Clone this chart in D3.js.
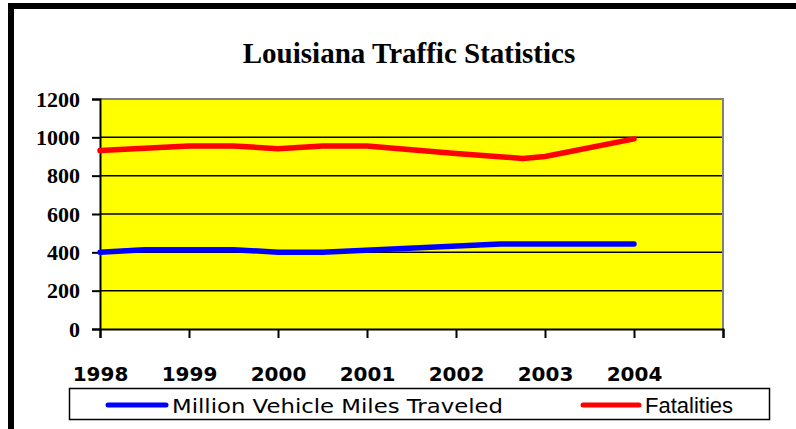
<!DOCTYPE html>
<html>
<head>
<meta charset="utf-8">
<script src="https://cdn.jsdelivr.net/npm/d3@7/dist/d3.min.js"></script>
<style>
  html, body { margin: 0; padding: 0; background: #fff; }
  svg { display: block; }
</style>
</head>
<body>
<svg id="chart" width="796" height="429"></svg>
<script>
// ---- data ----
const title = "Louisiana Traffic Statistics";
const yearTicks = [1998, 1999, 2000, 2001, 2002, 2003, 2004, 2005];
const yearLabels = ["1998", "1999", "2000", "2001", "2002", "2003", "2004", ""];
const yTicks = [0, 200, 400, 600, 800, 1000, 1200];

const milesName = "Million Vehicle Miles Traveled";
const milesX = [1998, 1998.5, 1999.5, 2000, 2000.5, 2002.5, 2004];
const milesV = [400, 414, 414, 401, 401, 444, 443];

const fatalName = "Fatalities";
const fatalX = [1998, 1999, 1999.5, 2000, 2000.5, 2001, 2002, 2002.75, 2003, 2004];
const fatalV = [931, 955, 955, 941, 955, 955, 916, 890, 900, 992];

// ---- layout ----
const SERIF = "'Liberation Serif', 'Times New Roman', serif";
const COMIC = "'Comic Sans MS', 'DejaVu Sans', sans-serif";
const svg = d3.select("#chart");
const plot = { left: 100, right: 723, top: 99, bottom: 329 };

const x = d3.scaleLinear().domain([1998, 2005]).range([plot.left, plot.right]);
const y = d3.scaleLinear().domain([0, 1200]).range([plot.bottom, plot.top]);

// outer frame (top and left black bars)
svg.append("rect").attr("x", 8).attr("y", 3).attr("width", 788).attr("height", 6).attr("fill", "#000");
svg.append("rect").attr("x", 8).attr("y", 3).attr("width", 6).attr("height", 426).attr("fill", "#000");

// title
svg.append("text")
  .attr("x", 409).attr("y", 63)
  .attr("text-anchor", "middle")
  .style("font-family", SERIF)
  .style("font-weight", "bold")
  .style("font-size", "29px")
  .text(title);

// plot background
svg.append("rect")
  .attr("x", plot.left).attr("y", plot.top)
  .attr("width", plot.right - plot.left).attr("height", plot.bottom - plot.top)
  .attr("fill", "#ffff00");

// gridlines
svg.append("g").selectAll("line")
  .data(yTicks.filter(d => d > 0 && d < 1200))
  .join("line")
  .attr("x1", plot.left).attr("x2", plot.right)
  .attr("y1", d => y(d)).attr("y2", d => y(d))
  .attr("stroke", "#000").attr("stroke-width", 1.5);

// grey top/right border
svg.append("path")
  .attr("d", `M${plot.left},${plot.top}H${plot.right}V${plot.bottom}`)
  .attr("fill", "none").attr("stroke", "#808080").attr("stroke-width", 2);

// y axis
const yAxis = d3.axisLeft(y).tickValues(yTicks).tickSize(8).tickPadding(12).tickFormat(d3.format("d"));
const gy = svg.append("g").attr("transform", `translate(${plot.left},0)`).call(yAxis);
gy.attr("font-family", null).attr("font-size", null);
gy.select(".domain").attr("stroke", "#000").attr("stroke-width", 2);
gy.selectAll(".tick line").attr("stroke", "#000").attr("stroke-width", 2);
gy.selectAll(".tick text")
  .style("font-family", SERIF)
  .style("font-weight", "bold")
  .style("font-size", "22px")
  .attr("fill", "#000");

// x axis
const xAxis = d3.axisBottom(x).tickValues(yearTicks).tickSize(9).tickPadding(29)
  .tickFormat((d, i) => yearLabels[i]);
const gx = svg.append("g").attr("transform", `translate(0,${plot.bottom})`).call(xAxis);
gx.attr("font-family", null).attr("font-size", null);
gx.select(".domain").attr("stroke", "#000").attr("stroke-width", 2);
gx.selectAll(".tick line").attr("stroke", "#000").attr("stroke-width", 2);
gx.selectAll(".tick text")
  .style("font-family", COMIC)
  .style("font-weight", "bold")
  .style("font-size", "20px")
  .attr("fill", "#000");

// lines
const line = d3.line().x(d => x(d[0])).y(d => y(d[1]));
svg.append("path")
  .datum(fatalX.map((v, i) => [v, fatalV[i]]))
  .attr("d", line)
  .attr("fill", "none").attr("stroke", "#ff0000").attr("stroke-width", 5.5)
  .attr("stroke-linecap", "round").attr("stroke-linejoin", "round");
svg.append("path")
  .datum(milesX.map((v, i) => [v, milesV[i]]))
  .attr("d", line)
  .attr("fill", "none").attr("stroke", "#0000ff").attr("stroke-width", 5.5)
  .attr("stroke-linecap", "round").attr("stroke-linejoin", "round");

// legend
const lg = svg.append("g");
lg.append("rect")
  .attr("x", 69.5).attr("y", 388.5).attr("width", 700).attr("height", 31)
  .attr("fill", "#fff").attr("stroke", "#000").attr("stroke-width", 1.5);
lg.append("line").attr("x1", 108).attr("x2", 166).attr("y1", 405).attr("y2", 405)
  .attr("stroke", "#0000ff").attr("stroke-width", 5).attr("stroke-linecap", "round");
lg.append("text").attr("x", 172).attr("y", 413)
  .style("font-family", COMIC)
  .style("font-size", "19px")
  .attr("textLength", 331).attr("lengthAdjust", "spacingAndGlyphs")
  .text(milesName);
lg.append("line").attr("x1", 583).attr("x2", 639).attr("y1", 405).attr("y2", 405)
  .attr("stroke", "#ff0000").attr("stroke-width", 5).attr("stroke-linecap", "round");
lg.append("text").attr("x", 645).attr("y", 413)
  .style("font-family", "Arial, 'Liberation Sans', sans-serif")
  .style("font-size", "22px")
  .text(fatalName);
</script>
</body>
</html>
